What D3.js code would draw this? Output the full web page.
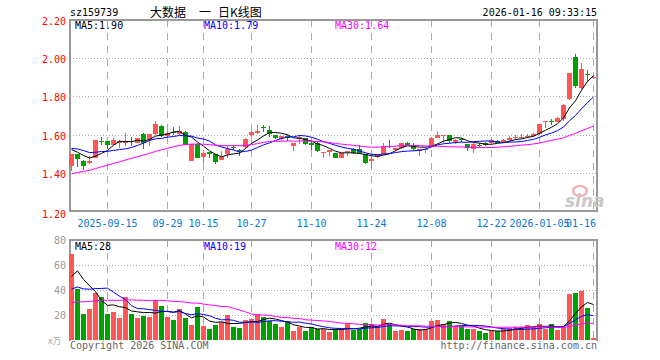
<!DOCTYPE html>
<meta charset="utf-8">
<script src="https://d3js.org/d3.v7.min.js"></script>
<style>
  body { margin: 0; background: #fff; }
  text { font-family: "DejaVu Sans Mono", monospace; font-size: 10px; }
</style>
<svg id="chart" width="660" height="360"></svg>
<script>

// trading days shown on the chart
var dates = ("2025-09-05 2025-09-08 2025-09-09 2025-09-10 2025-09-11 2025-09-12 2025-09-15 2025-09-16 2025-09-17 2025-09-18 " +
  "2025-09-19 2025-09-22 2025-09-23 2025-09-24 2025-09-25 2025-09-26 2025-09-29 2025-09-30 2025-10-09 2025-10-10 " +
  "2025-10-13 2025-10-14 2025-10-15 2025-10-16 2025-10-17 2025-10-20 2025-10-21 2025-10-22 2025-10-23 2025-10-24 " +
  "2025-10-27 2025-10-28 2025-10-29 2025-10-30 2025-10-31 2025-11-03 2025-11-04 2025-11-05 2025-11-06 2025-11-07 " +
  "2025-11-10 2025-11-11 2025-11-12 2025-11-13 2025-11-14 2025-11-17 2025-11-18 2025-11-19 2025-11-20 2025-11-21 " +
  "2025-11-24 2025-11-25 2025-11-26 2025-11-27 2025-11-28 2025-12-01 2025-12-02 2025-12-03 2025-12-04 2025-12-05 " +
  "2025-12-08 2025-12-09 2025-12-10 2025-12-11 2025-12-12 2025-12-15 2025-12-16 2025-12-17 2025-12-18 2025-12-19 " +
  "2025-12-22 2025-12-23 2025-12-24 2025-12-25 2025-12-26 2025-12-29 2025-12-30 2025-12-31 2026-01-05 2026-01-06 " +
  "2026-01-07 2026-01-08 2026-01-09 2026-01-12 2026-01-13 2026-01-14 2026-01-15 2026-01-16").split(" ")

var open = [1.435,1.496,1.464,1.449,1.478,1.569,1.565,1.548,1.555,1.557,
  1.567,1.555,1.603,1.570,1.603,1.643,1.591,1.615,1.605,1.614,
  1.464,1.552,1.482,1.509,1.496,1.468,1.500,1.535,1.518,1.534,
  1.597,1.609,1.640,1.626,1.600,1.579,1.592,1.540,1.575,1.580,
  1.557,1.557,1.508,1.510,1.504,1.478,1.508,1.522,1.522,1.496,
  1.461,1.482,1.496,1.541,1.517,1.531,1.557,1.548,1.513,1.518,
  1.540,1.583,1.596,1.597,1.562,1.575,1.549,1.523,1.547,1.558,
  1.558,1.567,1.558,1.572,1.580,1.586,1.591,1.593,1.605,1.668,
  1.669,1.668,1.680,1.786,2.005,1.844,1.919,1.900]
var high = [1.500,1.500,1.465,1.487,1.570,1.590,1.567,1.580,1.570,1.610,
  1.585,1.580,1.610,1.605,1.673,1.650,1.617,1.640,1.645,1.620,
  1.551,1.555,1.505,1.510,1.497,1.513,1.540,1.545,1.527,1.580,
  1.620,1.652,1.648,1.643,1.600,1.590,1.597,1.557,1.597,1.580,
  1.560,1.565,1.510,1.517,1.505,1.505,1.516,1.530,1.548,1.496,
  1.500,1.496,1.557,1.570,1.531,1.555,1.560,1.557,1.522,1.527,
  1.590,1.617,1.597,1.597,1.575,1.583,1.550,1.558,1.558,1.560,
  1.575,1.570,1.575,1.593,1.598,1.602,1.605,1.607,1.658,1.669,
  1.680,1.690,1.760,1.921,2.020,1.974,1.940,1.910]
var low = [1.410,1.430,1.417,1.447,1.475,1.548,1.527,1.545,1.530,1.540,
  1.540,1.555,1.527,1.540,1.600,1.585,1.583,1.600,1.600,1.545,
  1.460,1.475,1.452,1.478,1.447,1.465,1.478,1.517,1.487,1.530,
  1.587,1.603,1.614,1.590,1.575,1.565,1.565,1.513,1.550,1.548,
  1.517,1.510,1.478,1.487,1.475,1.475,1.487,1.500,1.499,1.447,
  1.426,1.478,1.492,1.530,1.513,1.527,1.540,1.513,1.490,1.505,
  1.535,1.580,1.557,1.557,1.553,1.560,1.515,1.505,1.535,1.540,
  1.555,1.555,1.555,1.563,1.570,1.575,1.580,1.590,1.600,1.637,
  1.650,1.665,1.670,1.780,1.844,1.839,1.882,1.890]
var close = [1.496,1.473,1.435,1.464,1.570,1.566,1.548,1.574,1.565,1.565,
  1.565,1.580,1.557,1.603,1.655,1.591,1.609,1.612,1.617,1.548,
  1.550,1.478,1.504,1.496,1.457,1.482,1.527,1.533,1.515,1.579,
  1.614,1.620,1.637,1.603,1.583,1.591,1.583,1.557,1.587,1.553,
  1.548,1.513,1.510,1.517,1.478,1.504,1.516,1.504,1.504,1.452,
  1.473,1.496,1.539,1.539,1.531,1.555,1.543,1.522,1.522,1.527,
  1.583,1.600,1.597,1.565,1.574,1.572,1.532,1.553,1.545,1.546,
  1.570,1.558,1.570,1.584,1.588,1.588,1.593,1.605,1.658,1.669,
  1.667,1.686,1.756,1.921,1.856,1.944,1.916,1.902]
// volume, in 10k lots
var volume = [68.8,40.8,20.8,24.8,37.9,34.4,20.8,22.4,17.6,34.4,
  20.8,17.6,19.2,18.1,32.0,27.2,18.1,16.0,24.8,17.6,
  12.0,26.4,11.2,8.8,12.0,14.4,20.0,10.4,9.6,16.0,
  16.8,20.8,18.4,15.2,12.8,10.4,15.2,7.2,10.4,7.2,
  10.4,8.8,8.8,6.4,8.8,8.8,12.8,8.0,8.8,13.6,
  12.8,11.2,16.8,12.8,7.2,8.0,7.2,8.8,8.8,8.8,
  15.2,16.0,12.8,15.2,11.2,11.2,8.8,8.8,7.2,5.6,
  7.2,7.2,8.8,9.6,10.4,10.4,12.0,10.4,12.8,8.8,
  12.8,8.0,10.4,36.8,37.9,39.2,25.9,1.9]

// the 29 sessions before the window, estimated from where the MA lines start
var prevClose = [1.28,1.27,1.29,1.30,1.28,1.29,1.31,1.30,1.29,1.30,
  1.32,1.31,1.33,1.34,1.35,1.36,1.38,1.40,1.42,1.46,
  1.50,1.52,1.57,1.55,1.53,1.54,1.52,1.53,1.52]
var prevVolume = [18,20,17,22,19,21,24,20,23,22,
  25,21,26,28,24,30,27,32,29,37,
  25,35,28,33,33,18,55,50,62]

var priceTicks = [2.20, 2.00, 1.80, 1.60, 1.40, 1.20]
var volTicks = [80, 60, 40, 20]
var dateTicks = ["2025-09-15","2025-09-29","2025-10-15","2025-10-27","2025-11-10","2025-11-24","2025-12-08","2025-12-22","2026-01-05","2026-01-16"]
var dateTickLabels = ["2025-09-15","09-29","10-15","10-27","11-10","11-24","12-08","12-22","2026-01-05","01-16"]
var maDays = [5, 10, 30]
var maColors = ["#000000", "#0000ff", "#ff00ff"]
var priceMaLabels = ["MA5:1.90", "MA10:1.79", "MA30:1.64"]
var volMaLabels = ["MA5:28", "MA10:19", "MA30:12"]

var red = "#ff5555", green = "#00a000", gridColor = "#aaaaaa"

function movingAvg(prev, vals, n) {
  var all = prev.concat(vals)
  return vals.map(function(v, i) {
    var j = i + prev.length
    return d3.mean(all.slice(j - n + 1, j + 1))
  })
}

var svg = d3.select("#chart")

var x = d3.scaleBand().domain(dates).range([68, 596])
var cx = function(d) { return x(d) + 3 }
var yP = d3.scaleLinear().domain([1.2, 2.2]).range([211, 20])
var yV = d3.scaleLinear().domain([0, 80]).range([340, 240])

// header
svg.append("text").attr("x", 70).attr("y", 16).text("sz159739")
var titleParts = [["大数据", 150], ["一", 199], ["日K线图", 218]]
titleParts.forEach(function(t) {
  svg.append("text").attr("x", t[1]).attr("y", 17)
    .style("font-family", "'Noto Sans CJK SC'").style("font-size", "12px").text(t[0])
})
svg.append("text").attr("x", 597).attr("y", 16).attr("text-anchor", "end")
  .text("2026-01-16 09:33:15")

// grids
var grid = svg.append("g")
grid.selectAll(".hp").data(priceTicks.slice(1, 5)).join("line")
  .attr("x1", 70).attr("x2", 597)
  .attr("y1", function(d) { return Math.round(yP(d)) + 0.5 })
  .attr("y2", function(d) { return Math.round(yP(d)) + 0.5 })
  .attr("stroke", gridColor).attr("stroke-dasharray", "1,2")
grid.selectAll(".hv").data(volTicks.slice(1)).join("line")
  .attr("x1", 70).attr("x2", 597)
  .attr("y1", function(d) { return Math.round(yV(d)) + 0.5 })
  .attr("y2", function(d) { return Math.round(yV(d)) + 0.5 })
  .attr("stroke", gridColor).attr("stroke-dasharray", "1,2")
;[[20, 211], [240, 340]].forEach(function(r) {
  grid.append("g").selectAll("line").data(dateTicks).join("line")
    .attr("x1", function(d) { return cx(d) + 0.5 })
    .attr("x2", function(d) { return cx(d) + 0.5 })
    .attr("y1", r[0]).attr("y2", r[1])
    .attr("stroke", gridColor).attr("stroke-dasharray", "7,6")
})

// frames
svg.append("rect").attr("x", 70).attr("y", 20).attr("width", 527).attr("height", 191)
  .attr("fill", "none").attr("stroke", "#999").attr("stroke-width", 2)
svg.append("path").attr("d", "M70,341V240H597V341")
  .attr("fill", "none").attr("stroke", "#999").attr("stroke-width", 2)

// sina watermark
svg.append("ellipse").attr("cx", 580).attr("cy", 191).attr("rx", 7).attr("ry", 5)
  .attr("fill", "none").attr("stroke", "#f0b4b4").attr("stroke-width", 2.5)
svg.append("text").attr("x", 565).attr("y", 207)
  .style("font-family", "'DejaVu Sans'").style("font-size", "17px")
  .style("font-weight", "bold").style("font-style", "italic")
  .attr("fill", "#c8c8c8").text("sina")

// axis labels
svg.selectAll(".pl").data(priceTicks).join("text")
  .attr("x", 66).attr("y", function(d) { return yP(d) + (d === 1.2 ? 7 : 5) })
  .attr("text-anchor", "end").attr("fill", "#ff0000")
  .text(function(d) { return d.toFixed(2) })
svg.selectAll(".vl").data(volTicks).join("text")
  .attr("x", 66).attr("y", function(d) { return yV(d) + 4 })
  .attr("text-anchor", "end").attr("fill", "#999")
  .text(function(d) { return d })
svg.append("text").attr("x", 48).attr("y", 344).attr("fill", "#aaa")
  .style("font-family", "'Noto Sans CJK SC'").style("font-size", "9px").text("x万")
svg.selectAll(".dl").data(dateTicks).join("text")
  .attr("x", function(d, i) { return i === dateTicks.length - 1 ? 596 : cx(d) + 0.5 })
  .attr("y", 227)
  .attr("text-anchor", function(d, i) { return i === dateTicks.length - 1 ? "end" : "middle" })
  .attr("fill", "#0a78d2")
  .text(function(d, i) { return dateTickLabels[i] })

// candles
var idx = d3.range(dates.length)
var candles = svg.append("g").attr("shape-rendering", "crispEdges")
candles.selectAll("line").data(idx).join("line")
  .attr("x1", function(i) { return cx(dates[i]) + 0.5 })
  .attr("x2", function(i) { return cx(dates[i]) + 0.5 })
  .attr("y1", function(i) { return yP(high[i]) })
  .attr("y2", function(i) { return yP(low[i]) })
  .attr("stroke", function(i) { return close[i] >= open[i] ? red : green })
candles.selectAll("rect").data(idx).join("rect")
  .attr("x", function(i) { return cx(dates[i]) - 2 })
  .attr("width", 5)
  .attr("y", function(i) { return yP(Math.max(open[i], close[i])) })
  .attr("height", function(i) { return Math.max(1, Math.abs(yP(open[i]) - yP(close[i]))) })
  .attr("fill", function(i) { return close[i] >= open[i] ? red : green })

// volume bars
svg.append("g").attr("shape-rendering", "crispEdges")
  .selectAll("rect").data(idx).join("rect")
  .attr("x", function(i) { return cx(dates[i]) - 2 })
  .attr("width", 5)
  .attr("y", function(i) { return yV(volume[i]) })
  .attr("height", function(i) { return 340 - yV(volume[i]) })
  .attr("fill", function(i) { return close[i] >= open[i] ? red : green })

// moving averages
maDays.forEach(function(n, k) {
  var maP = movingAvg(prevClose, close, n)
  var maV = movingAvg(prevVolume, volume, n)
  svg.append("path")
    .attr("d", d3.line().x(function(d, i) { return cx(dates[i]) + 0.5 }).y(function(d) { return yP(d) })(maP))
    .attr("fill", "none").attr("stroke", maColors[k]).attr("stroke-width", 1)
  svg.append("path")
    .attr("d", d3.line().x(function(d, i) { return cx(dates[i]) + 0.5 }).y(function(d) { return yV(d) })(maV))
    .attr("fill", "none").attr("stroke", maColors[k]).attr("stroke-width", 1)
})

// MA legends
var legendX = [75, 204, 335]
priceMaLabels.forEach(function(t, k) {
  svg.append("text").attr("x", legendX[k]).attr("y", 29).attr("fill", maColors[k]).text(t)
})
volMaLabels.forEach(function(t, k) {
  svg.append("text").attr("x", legendX[k]).attr("y", 250).attr("fill", maColors[k]).text(t)
})

// footer
svg.append("text").attr("x", 70).attr("y", 349).attr("fill", "#666").text("Copyright 2026 SINA.COM")
svg.append("text").attr("x", 597).attr("y", 349).attr("text-anchor", "end").attr("fill", "#666")
  .text("http://finance.sina.com.cn")

</script>
